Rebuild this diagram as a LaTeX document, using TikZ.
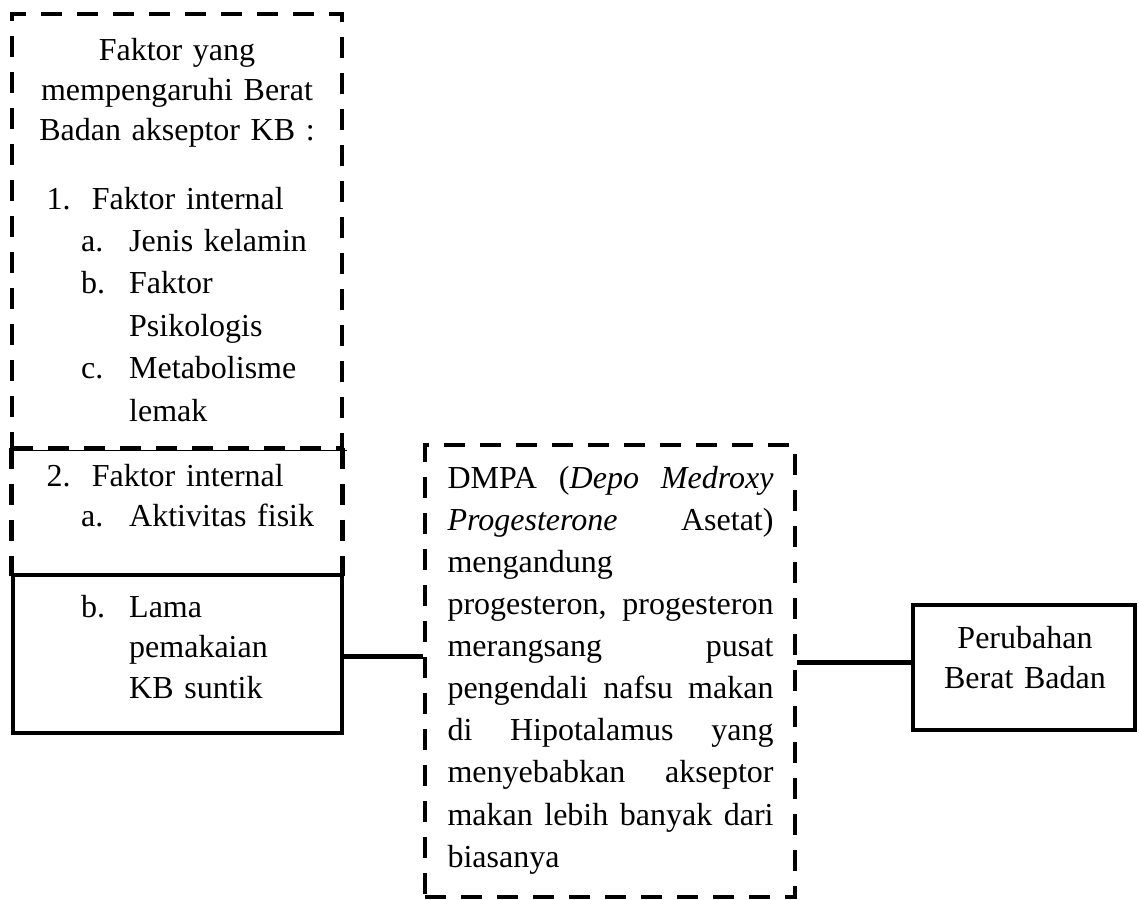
\documentclass[tikz,border=0pt]{standalone}
\usepackage{fontspec}
\setmainfont{Liberation Serif}
\newcommand{\nomor}[1]{\makebox[17pt][l]{#1}}
\newcommand{\huruf}[1]{\hspace*{13pt}\makebox[18pt][l]{#1}}
\newcommand{\lanjut}{\hspace*{31pt}}
\newcommand{\rata}[1]{{\spaceskip=0pt\xspaceskip=0pt\makebox[122.25pt][s]{#1}}}

\begin{document}
\begin{tikzpicture}[x=0.375pt,y=-0.375pt,
  kotak/.style={draw, line width=1.8pt, inner sep=0pt},
  garisputus/.style={line width=1.8pt, dash pattern=on 8pt off 5.5pt},
  putus/.style={kotak, garisputus},
  teks/.style={inner sep=0pt, font=\fontsize{12}{15.9}\selectfont}]
\useasboundingbox (0,0) rectangle (1139,899);
% kotak
\node[putus, minimum width=123.75pt, minimum height=162.75pt] (faktor) at (177,231) {};
\node[inner sep=0pt, minimum width=123.75pt, minimum height=47.6pt] (faktordua) at (177,511.5) {};
\draw[garisputus] (faktordua.north west) -- (faktordua.south west)
  (faktordua.north east) -- (faktordua.south east);
\node[kotak, minimum width=123.4pt, minimum height=59.25pt] (lama) at (177.5,654) {};
\node[putus, minimum width=138.75pt, minimum height=169.5pt] (dmpa) at (610,671) {};
\node[kotak, minimum width=83.25pt, minimum height=46.9pt] (hasil) at (1024,667.5) {};
\draw[very thin] (faktor.south west) -- ([xshift=1pt]faktor.south east);
% teks
\node[teks, anchor=base, text width=120pt, align=center,
  font=\fontsize{12}{15}\selectfont] (judul) at (177,60)
  {Faktor yang\\mempengaruhi Berat\\Badan akseptor KB :};
\node[teks, anchor=base west, text width=110pt, align=left] (daftar) at (46,209)
  {\nomor{1.}Faktor internal\\
   \huruf{a.}Jenis kelamin\\
   \huruf{b.}Faktor\\
   \lanjut Psikologis\\
   \huruf{c.}Metabolisme\\
   \lanjut lemak};
\node[teks, anchor=base west, text width=110pt, align=left,
  font=\fontsize{12}{15}\selectfont] (daftardua) at (46,486)
  {\nomor{2.}Faktor internal\\
   \huruf{a.}Aktivitas fisik};
\node[teks, anchor=base west, text width=110pt, align=left,
  font=\fontsize{12}{15.2}\selectfont] (lamateks) at (46,617)
  {\huruf{b.}Lama\\
   \lanjut pemakaian\\
   \lanjut KB suntik};
\node[teks, anchor=base west, text width=122.25pt, align=left,
  font=\fontsize{12}{15.8}\selectfont] (dmpateks) at (447,488)
  {\rata{DMPA (\textit{Depo Medroxy}}\\
   \rata{\textit{Progesterone} Asetat)}\\
   mengandung\\
   \rata{progesteron, progesteron}\\
   \rata{merangsang pusat}\\
   \rata{pengendali nafsu makan}\\
   \rata{di Hipotalamus yang}\\
   \rata{menyebabkan akseptor}\\
   \rata{makan lebih banyak dari}\\
   biasanya};
\node[teks, anchor=base, text width=80pt, align=center,
  font=\fontsize{12}{15}\selectfont] (hasilteks) at (1025,648)
  {Perubahan\\Berat Badan};
% garis
\draw[line width=1.8pt] ([yshift=-1pt]lama.east) -- ([yshift=-1pt]lama.east -| dmpa.west);
\draw[line width=1.8pt] ([yshift=2pt]hasil.west) -- ([yshift=2pt]hasil.west -| dmpa.east);
\end{tikzpicture}
\end{document}
